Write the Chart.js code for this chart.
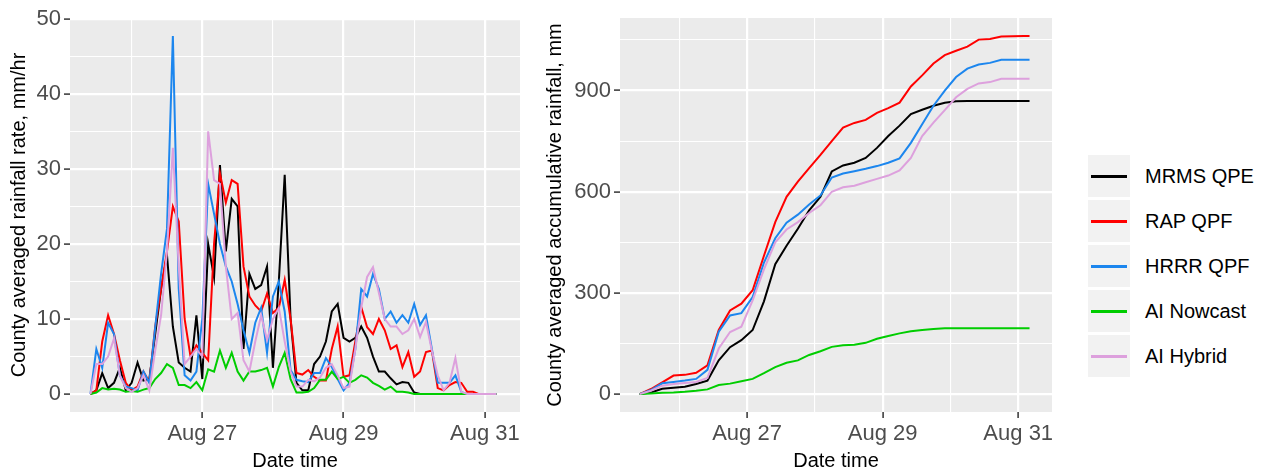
<!DOCTYPE html>
<html>
<head>
<meta charset="utf-8">
<script src="https://cdn.jsdelivr.net/npm/chart.js@4.4.1/dist/chart.umd.min.js"></script>
<style>
  body { margin: 0; background: #fff; }
  #wrap { position: relative; width: 1264px; height: 471px; font-family: "Liberation Sans", Arial, sans-serif; }
  canvas { position: absolute; top: 0; }
  #rate { left: 0; }
  #accum { left: 530px; }
  #legend { position: absolute; left: 1088px; top: 155px; }
  .row { height: 45px; display: flex; }
  .key { width: 42px; height: 42px; background: #f2f2f2; position: relative; }
  .key span { position: absolute; left: 3px; right: 3px; top: 20px; height: 2.5px; }
  .lab { font-size: 20px; margin-left: 15px; line-height: 42px; color: #000; white-space: nowrap; }
</style>
</head>
<body>
<div id="wrap">
  <canvas id="rate" width="530" height="471"></canvas>
  <canvas id="accum" width="530" height="471"></canvas>
  <div id="legend"></div>
</div>
<script>
Chart.defaults.font.family = '"Liberation Sans", Arial, sans-serif';

// series
const seriesNames = ["MRMS QPE", "RAP QPF", "HRRR QPF", "AI Nowcast", "AI Hybrid"];
const seriesColors = ["#000000", "#ff0000", "#1c86ee", "#00cd00", "#dda0dd"];

// hours since Aug 25 00:00
const rateHours = [10,12,14,16,18,20,22,24,26,28,30,32,34,36,38,40,42,44,46,48,
  50,52,54,56,58,60,62,64,66,68,70,72,74,76,78,80,82,84,86,88,
  90,92,94,96,98,100,102,104,106,108,110,112,114,116,118,120,122,124,126,128,
  130,132,134,136,138,140,142,144,146,148];

// rainfall rate, mm/hr
const rateMRMS = [0,0.5,2.8,0.8,1.5,3.5,0.5,1.5,4.2,1.8,
  2,8,14,18.5,9,4.2,3.5,3,10.5,2,
  20,15.5,30.5,19,26,25,6,16,14,14.5,
  17,3.5,15,29.2,10,1.5,0.5,0.5,4,5,
  7,11,12,7.5,7,7.5,9,7.5,5,3,
  3,2.1,1.3,1.6,1.5,0.2,0,0,0,0,
  0,0,0,0,0,0,0,0,0,0];
const rateRAP = [0,0.5,7,10.5,8,4.5,1.5,0.5,1,3,
  1.6,9,14,19,25,23,10,5,6.5,5.5,
  4.5,20,29.4,25.5,28.5,28,17,13,11.8,11,
  13.4,10.8,11.5,15.2,10,2.8,2.6,3.2,2.3,1.8,
  1.8,6,9,2.3,2.5,7,11.6,8.9,8,10,
  8.5,6,6.5,3.6,5.6,2.3,3,5.6,5.8,0.8,
  0.5,1.2,1.6,1.5,0.3,0.3,0,0,0,0];
const rateHRRR = [0,6,3.5,9.5,8,2.5,1,0.8,0.5,3,
  1.5,8.9,16,22,47.7,14,2.5,1.8,3,10,
  28,24,20,17,15,12,8.5,5.5,9.5,11.5,
  5.5,13,15,11,3.2,1.9,1.7,1.6,2.8,2.8,
  4.8,3.6,2,0.5,1.5,6,14,13,16,14,
  10,11,9.5,10.5,9.5,12,9.2,10.5,6,1.5,
  1.5,1.5,2.5,0.3,0,0,0,0,0,0];
const rateNowcast = [0,0.2,0.8,0.6,0.7,0.6,0.3,0.4,0.3,0.6,
  0.8,2,2.8,4,3.5,1.2,1.2,0.8,1.6,0.5,
  3.3,3,5.8,3.5,5.5,3,1.8,3,3,3.2,
  3.5,1,3.6,5.5,2,0.2,0.2,0.3,0.8,1.9,
  1.9,3,2,2.3,1.5,1.9,2.5,2.2,1.5,1.1,
  0.6,1,0.3,0.3,0.2,0,0,0,0,0,
  0,0,0,0,0,0,0,0,0,0];
const rateHybrid = [0,4,4,5,7.4,2.5,0.8,0.3,0.8,2.5,
  0.5,5.8,10.5,19,32.8,17,4,5,6,5,
  35,28.5,28,17,10,10.8,4.5,3,7,10.5,
  7.2,10,11.5,7,3,1,1,1.9,1.7,2.2,
  3.5,4,2.5,0.8,1,6,11.5,15.6,16.9,13.5,
  10,9,9,8,8.5,10,7.6,9.6,5.8,2.5,
  0.5,1.5,4.8,0.3,0,0,0,0,0,0];

// accumulated rainfall, mm
const accHours = [10,14,18,22,26,30,34,38,42,46,50,54,58,62,66,70,74,78,82,86,
  90,94,98,102,106,110,114,118,122,126,130,134,138,142,146,148];
const accMRMS = [0,5,16,19,22,30,40,100,139,160,190,275,385,440,490,545,585,660,678,686,
  700,730,765,796,830,843,855,864,868,869,869,869,869,869,869,869];
const accRAP = [0,15,35,55,57,63,85,190,248,268,308,410,510,585,630,670,709,750,790,804,
  813,834,848,864,912,945,980,1005,1018,1030,1051,1053,1060,1061,1062,1062];
const accHRRR = [0,12,32,36,40,45,72,185,233,240,288,390,462,508,532,562,589,642,654,661,
  668,676,686,699,745,800,855,900,940,965,977,982,991,991,991,991];
const accNowcast = [0,2,4,5,7,10,14,27,31,38,45,62,80,93,100,116,127,140,145,146,
  152,164,172,180,186,190,193,195,195,195,195,195,195,195,195,195];
const accHybrid = [0,10,25,30,33,36,48,135,184,200,278,370,450,488,510,537,560,600,613,618,
  628,638,648,663,700,765,805,842,880,905,921,925,935,935,935,935];

// axes
const dayGrid = [24, 48, 72, 96, 120, 144];
const dayLabels = { 48: "Aug 27", 96: "Aug 29", 144: "Aug 31" };
const rateGrid = [0, 5, 10, 15, 20, 25, 30, 35, 40, 45, 50];
const rateTicks = [0, 10, 20, 30, 40, 50];
const accGrid = [0, 150, 300, 450, 600, 750, 900, 1050];
const accTicks = [0, 300, 600, 900];

const panelBg = {
  id: 'panelBg',
  beforeDraw(chart) {
    const { ctx, chartArea: a } = chart;
    ctx.save();
    ctx.fillStyle = '#ebebeb';
    ctx.fillRect(a.left, a.top, a.right - a.left, a.bottom - a.top);
    ctx.restore();
  }
};

function makeChart(id, hours, series, yMin, yMax, yGrid, yTicks, yTitle, yWidth, titlePad, padRight) {
  return new Chart(document.getElementById(id), {
    type: 'line',
    data: {
      datasets: series.map((vals, i) => ({
        label: seriesNames[i],
        data: hours.map((h, j) => ({ x: h, y: vals[j] })),
        borderColor: seriesColors[i],
        borderWidth: 2,
        pointRadius: 0,
        tension: 0,
        fill: false,
        order: 5 - i
      }))
    },
    options: {
      responsive: false,
      animation: false,
      devicePixelRatio: 1,
      layout: { padding: { top: 18, right: padRight, bottom: 0, left: 0 } },
      plugins: { legend: { display: false }, tooltip: { enabled: false } },
      scales: {
        x: {
          type: 'linear', min: 3.05, max: 155.95,
          afterBuildTicks: s => { s.ticks = dayGrid.map(v => ({ value: v })); },
          afterFit: s => { s.height = 59; },
          border: { display: false },
          grid: {
            color: '#ffffff',
            lineWidth: c => dayLabels[c.tick.value] ? 2.2 : 1.1,
            tickColor: c => dayLabels[c.tick.value] ? '#333333' : 'rgba(0,0,0,0)',
            tickLength: 6, tickWidth: 1.5
          },
          ticks: {
            autoSkip: false, maxRotation: 0, padding: 3,
            color: '#4d4d4d', font: { size: 22 },
            callback: v => dayLabels[v] || ''
          },
          title: { display: true, text: 'Date time', color: '#000', font: { size: 20, lineHeight: 1 }, padding: { top: 0, bottom: 0 } }
        },
        y: {
          min: yMin, max: yMax,
          afterBuildTicks: s => { s.ticks = yGrid.map(v => ({ value: v })); },
          afterFit: s => { s.width = yWidth; },
          border: { display: false },
          grid: {
            color: '#ffffff',
            lineWidth: c => yTicks.includes(c.tick.value) ? 2.2 : 1.1,
            tickColor: c => yTicks.includes(c.tick.value) ? '#333333' : 'rgba(0,0,0,0)',
            tickLength: 6, tickWidth: 1.5
          },
          ticks: {
            autoSkip: false, padding: 3,
            color: '#4d4d4d', font: { size: 22 },
            callback: v => yTicks.includes(v) ? String(v) : ''
          },
          title: { display: true, text: yTitle, color: '#000', font: { size: 20, lineHeight: 1 }, padding: { top: titlePad, bottom: 0 } }
        }
      }
    },
    plugins: [panelBg]
  });
}

makeChart('rate', rateHours, [rateMRMS, rateRAP, rateHRRR, rateNowcast, rateHybrid],
  -2.385, 50.085, rateGrid, rateTicks, 'County averaged rainfall rate, mm/hr', 70, 9, 10);

makeChart('accum', accHours, [accMRMS, accRAP, accHRRR, accNowcast, accHybrid],
  -53.1, 1115.1, accGrid, accTicks, 'County averaged accumulative rainfall, mm', 90, 15, 8);

// legend
const legend = document.getElementById('legend');
seriesNames.forEach((name, i) => {
  const row = document.createElement('div');
  row.className = 'row';
  row.innerHTML = '<div class="key"><span style="background:' + seriesColors[i] + '"></span></div>' +
    '<div class="lab">' + name + '</div>';
  legend.appendChild(row);
});
</script>
</body>
</html>
